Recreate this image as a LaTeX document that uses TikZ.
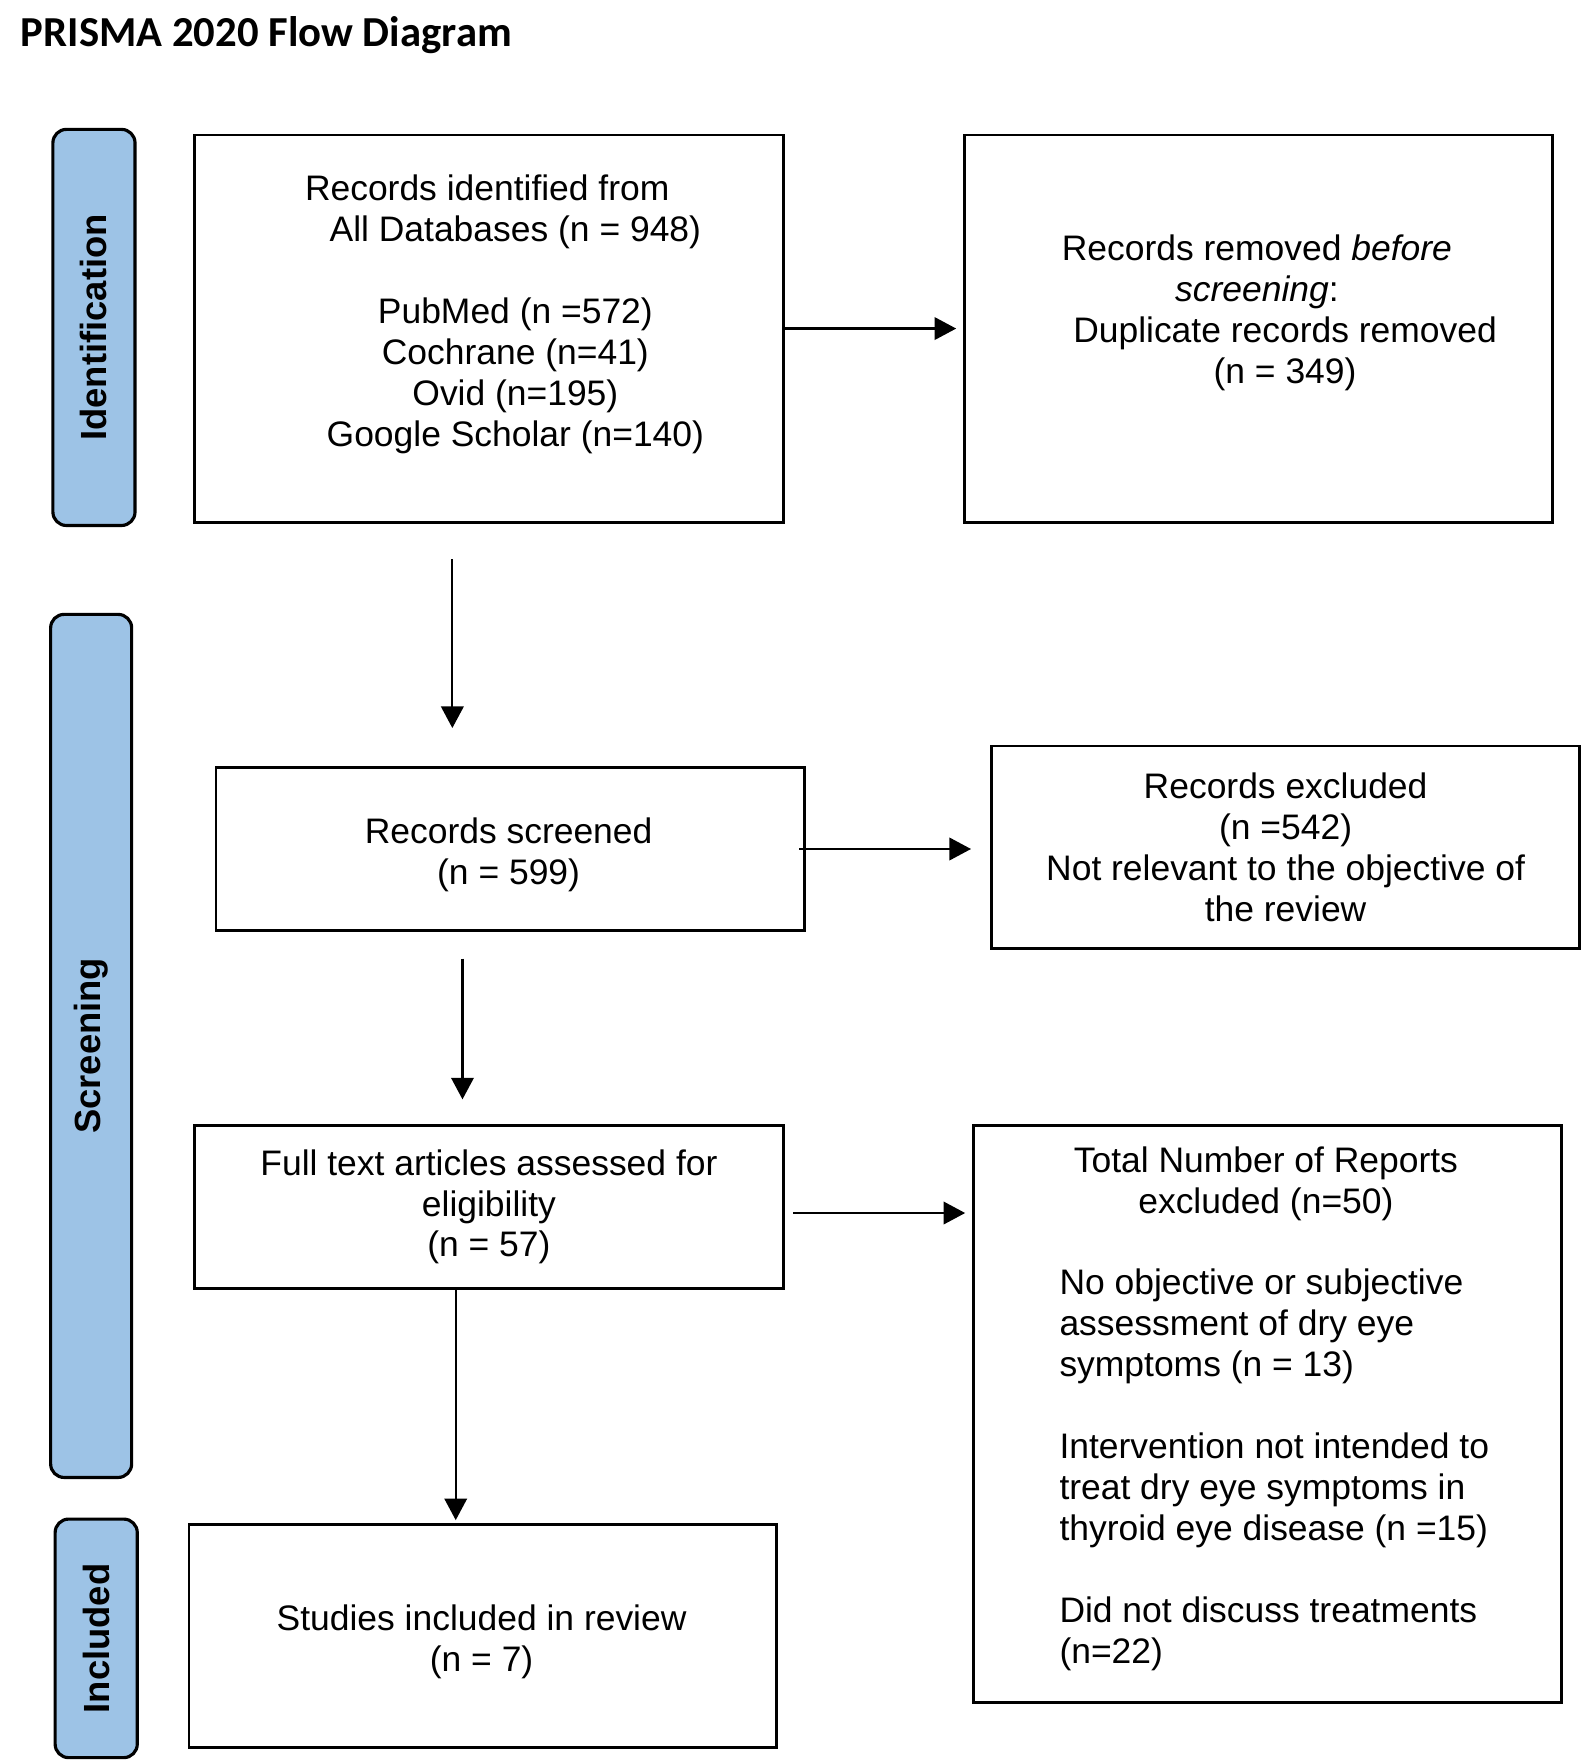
\documentclass[tikz,border=0pt]{standalone}
\usepackage{fontspec}
\setmainfont{Liberation Sans}
\newfontfamily\titlefont{Carlito}
\usetikzlibrary{arrows.meta}
\definecolor{phaseblue}{HTML}{9DC3E6}
\newcommand\ind{\hspace*{0.625cm}}
\begin{document}
\begin{tikzpicture}[x=0.0125cm, y=-0.0125cm,
  sz/.style 2 args={minimum width=#1*0.0125cm, minimum height=#2*0.0125cm},
  box/.style={draw=black, line width=0.9pt, rectangle, inner sep=0pt, align=center,
    font=\fontsize{11.2}{12.95}\selectfont},
  txt/.style={align=center, inner sep=0pt, font=\fontsize{11.2}{12.95}\selectfont},
  phase/.style={draw=black, line width=1pt, fill=phaseblue, rounded corners=0.15cm,
    inner sep=0pt, rotate=90, font=\fontsize{11.5}{13.5}\selectfont\bfseries},
  arr/.style={line width=0.7pt, -{Triangle[length=0.24cm,width=0.25cm]}}]
\useasboundingbox (0,0) rectangle (1410,1565);

% title
\node[anchor=base west, inner sep=0pt, font=\titlefont\fontsize{13.5}{16}\selectfont\bfseries] (title) at (18,41) {PRISMA 2020 Flow Diagram};

% phase labels
\node[phase, sz={352}{73}] (pid) at (83.5,291) {Identification};
\node[phase, sz={767}{72}] (psc) at (81,929.5) {Screening};
\node[phase, sz={212}{73}] (pin) at (85.5,1456) {Included};

% boxes
\node[box, sz={523}{344}] (b1) at (434.5,292) {};
\node[txt] (b1t) at (433,279) {Records identified from\\
  \ind All Databases (n = 948)\\[12.95pt]
  \ind PubMed (n =572)\\
  \ind Cochrane (n=41)\\
  \ind Ovid (n=195)\\
  \ind Google Scholar (n=140)};

\node[box, sz={523}{344}] (b2) at (1118.5,292) {};
\node[txt] (b2t) at (1117,278) {Records removed \textit{before}\\
  \textit{screening}:\\
  \ind Duplicate records removed\\
  \ind (n = 349)};

\node[box, sz={523}{145}] (b3) at (453.5,754.5) {};
\node[txt] (b3t) at (452,760) {Records screened\\(n = 599)};

\node[box, sz={523}{180}] (b4) at (1142.5,753) {Records excluded\\(n =542)\\Not relevant to the objective of\\the review};

\node[box, sz={523}{145}] (b5) at (434.5,1072.5) {Full text articles assessed for\\eligibility\\(n = 57)};

\node[box, sz={523}{513}] (b6) at (1126.5,1256.5) {};
\node[txt] (b6h) at (1125,1052) {Total Number of Reports\\excluded (n=50)};
\node[txt, align=left, anchor=north west] (b6b) at (941,1127) {No objective or subjective\\
  assessment of dry eye\\
  symptoms (n = 13)\\[12.95pt]
  Intervention not intended to\\
  treat dry eye symptoms in\\
  thyroid eye disease (n =15)\\[12.95pt]
  Did not discuss treatments\\
  (n=22)};

\node[box, sz={522}{198}] (b7) at (429,1454) {};
\node[txt] (b7t) at (428,1459) {Studies included in review\\(n = 7)};

% connectors
\coordinate (a1s) at (402,497);
\coordinate (a1e) at (402,647);
\coordinate (a2s) at (411,852);
\coordinate (a2e) at (411,977);
\coordinate (a3s) at (705,1078);
\coordinate (a4s) at (405,1145);

\draw[arr, shorten >=0.075cm] (b1.east) -- (b2.west);
\draw[arr] (a1s) -- (a1e);
\draw[arr, shorten <=-0.075cm, shorten >=0.21cm] (b3.east) -- (b3.east -| b4.west);
\draw[arr] (a2s) -- (a2e);
\draw[arr, shorten >=0.075cm] (a3s) -- (a3s -| b6.west);
\draw[arr, shorten >=0.035cm] (a4s) -- (a4s |- b7.north);
\end{tikzpicture}
\end{document}
